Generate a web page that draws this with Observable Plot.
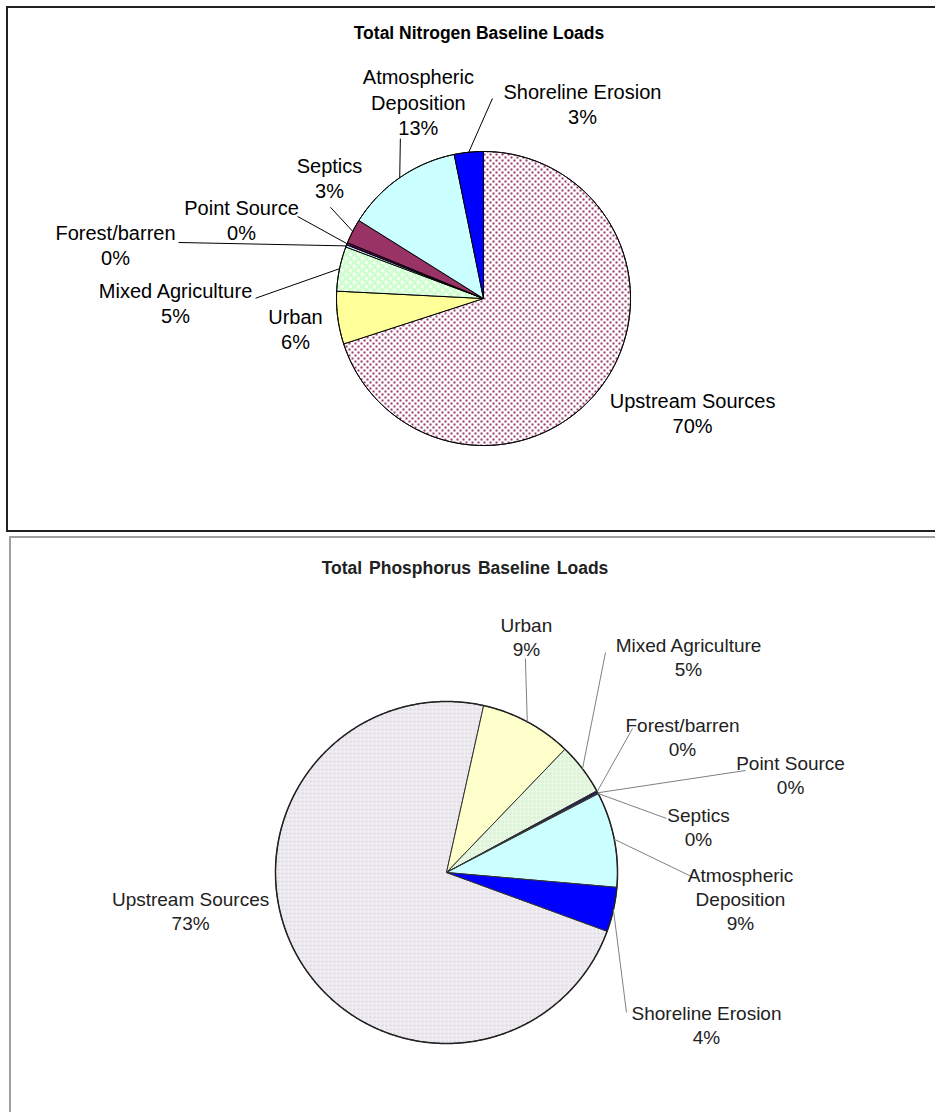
<!DOCTYPE html>
<html>
<head>
<meta charset="utf-8">
<script src="https://cdn.jsdelivr.net/npm/d3@7"></script>
<script src="https://cdn.jsdelivr.net/npm/@observablehq/plot@0.6"></script>
<style>
  html, body { margin: 0; padding: 0; background: #fff; }
  #page { position: relative; width: 935px; height: 1112px; overflow: hidden; background: #fff;
          font-family: "Liberation Sans", Arial, sans-serif; }
  .box { position: absolute; box-sizing: border-box; }
  .title { position: absolute; font-weight: bold; font-size: 17.5px; white-space: nowrap; transform: translate(-50%, -50%); }
  .chart { position: absolute; left: 0; }
</style>
</head>
<body>
<svg width="0" height="0" style="position:absolute">
  <defs>
    <pattern id="nDots" width="6" height="6" patternUnits="userSpaceOnUse">
      <rect width="6" height="6" fill="#ffffff"/>
      <rect x="0" y="0" width="2" height="2" fill="#993366" shape-rendering="crispEdges"/>
      <rect x="3" y="3" width="2" height="2" fill="#993366" shape-rendering="crispEdges"/>
    </pattern>
    <pattern id="nCheck" width="8" height="8" patternUnits="userSpaceOnUse">
      <rect width="8" height="8" fill="#ccffcc"/>
      <rect x="0.5" y="0.5" width="3" height="3" fill="#ffffff"/>
      <rect x="4.5" y="4.5" width="3" height="3" fill="#ffffff"/>
    </pattern>
    <pattern id="pGray" width="4" height="4" patternUnits="userSpaceOnUse">
      <rect width="4" height="4" fill="#efecf2"/>
      <circle cx="2" cy="2" r="1" fill="#d9d3df"/>
    </pattern>
    <pattern id="pGreen" width="4" height="4" patternUnits="userSpaceOnUse">
      <rect width="4" height="4" fill="#e8f8e4"/>
      <circle cx="2" cy="2" r="1" fill="#cdeec5"/>
    </pattern>
  </defs>
</svg>
<div id="page">
  <div class="box" style="left:6px;top:6px;width:960px;height:526px;border:2px solid #222;"></div>
  <div class="box" style="left:9px;top:536px;width:960px;height:700px;border:2px solid #a0a0a0;"></div>
  <div class="title" style="left:479px;top:33px;color:#000;">Total Nitrogen Baseline Loads</div>
  <div class="title" style="left:465px;top:568px;color:#222;word-spacing:2px;">Total Phosphorus Baseline Loads</div>
  <div id="c1" class="chart" style="top:0px;"></div>
  <div id="c2" class="chart" style="top:535px;"></div>
</div>
<script>
// ---------------- data ----------------
const categories = ["Upstream Sources", "Urban", "Mixed Agriculture", "Forest/barren",
                    "Point Source", "Septics", "Atmospheric Deposition", "Shoreline Erosion"];
const labelNames = ["Upstream Sources", "Urban", "Mixed Agriculture", "Forest/barren",
                    "Point Source", "Septics", "Atmospheric\nDeposition", "Shoreline Erosion"];
const nitrogenShare   = [70.0, 5.8, 4.9, 0.25, 0.25, 2.7, 12.9, 3.2];
const phosphorusShare = [72.9, 8.7, 4.9, 0.15, 0.10, 0.05, 9.0, 4.2];

// ---------------- layout / style ----------------
const nitrogenLayout = {
  el: "#c1", height: 532, cx: 483, cy: 298, r: 147, startDeg: 0,
  fills: ["url(#nDots)", "#ffff99", "url(#nCheck)", "#cceeff", "#660066", "#993366", "#ccffff", "#0000ff"],
  stroke: "#000", strokeWidth: 1, outline: "#000", outlineWidth: 1,
  textColor: "#000", leaderColor: "#000", fontSize: 20, lineHeight: 1.27,
  // label centre: [angle clockwise from 12 o'clock (deg), distance in radii]
  labelPolar: [[118.6, 1.62], [261, 1.295], [269.3, 2.095], [278.35, 2.53],
               [288.1, 1.732], [308.2, 1.333], [341.7, 1.411], [26.9, 1.488]],
  // leader start offset from label centre (px), null = no leader
  leaderFrom: [null, null, [80, -4], [63, -2], [56, -3], [1, 30], [-18, 37], [-90, -5]]
};
const phosphorusLayout = {
  el: "#c2", height: 577, cx: 446, cy: 337, r: 171, startDeg: 110.1,
  fills: ["url(#pGray)", "#ffffcc", "url(#pGreen)", "#000080", "#000080", "#000080", "#ccffff", "#0000ff"],
  stroke: "#333", strokeWidth: 1, outline: "#222", outlineWidth: 1.5,
  textColor: "#222", leaderColor: "#808080", fontSize: 19, lineHeight: 1.26,
  labelPolar: [[261.56, 1.513], [18.7, 1.457], [48.25, 1.897], [60.05, 1.593],
               [74.1, 2.092], [79.65, 1.498], [95.05, 1.726], [120.3, 1.761]],
  leaderFrom: [null, [-1, 22], [-83, -4], [-50, -8], [-45, -4], [-32, -8], [-45, -20], [-80, -12]]
};

function polar(deg, dist) {
  const a = deg * Math.PI / 180;
  return {x: dist * Math.sin(a), y: dist * Math.cos(a)};
}

function drawPie(values, L) {
  const total = d3.sum(values);
  let cum = 0;
  const slices = values.map((v, i) => {
    const a0 = L.startDeg + cum / total * 360;
    cum += v;
    const a1 = L.startDeg + cum / total * 360;
    const n = Math.max(2, Math.ceil((a1 - a0) / 0.5));
    const pts = [{x: 0, y: 0}];
    for (let k = 0; k <= n; k++) pts.push(polar(a0 + (a1 - a0) * k / n, 1));
    return {i, name: categories[i], value: v, a0, a1, mid: (a0 + a1) / 2, pts};
  });

  const circle = d3.range(0, 361, 0.5).map(d => polar(d, 1));

  const labels = slices.map((s, i) => {
    const p = polar(L.labelPolar[i][0], L.labelPolar[i][1]);
    return {x: p.x, y: p.y, text: `${labelNames[i]}\n${Math.round(s.value)}%`};
  });

  const leaders = slices.filter((s, i) => L.leaderFrom[i]).map(s => {
    const lab = labels[s.i];
    const off = L.leaderFrom[s.i];
    const e = polar(s.mid, 1);
    return {x1: lab.x + off[0] / L.r, y1: lab.y - off[1] / L.r, x2: e.x, y2: e.y};
  });

  const marks = slices.map(s => Plot.line(s.pts, {
    x: "x", y: "y", curve: "linear-closed",
    fill: L.fills[s.i], stroke: L.stroke, strokeWidth: L.strokeWidth,
    strokeLinejoin: "miter", strokeLinecap: "butt"
  }));
  marks.push(Plot.line(circle, {x: "x", y: "y", stroke: L.outline, strokeWidth: L.outlineWidth, fill: "none"}));
  marks.push(Plot.link(leaders, {x1: "x1", y1: "y1", x2: "x2", y2: "y2", stroke: L.leaderColor, strokeWidth: 1}));
  marks.push(Plot.text(labels, {x: "x", y: "y", text: "text", fontSize: L.fontSize,
                                lineHeight: L.lineHeight, fill: L.textColor}));

  const svg = Plot.plot({
    width: 935, height: L.height, margin: 0,
    x: {type: "linear", domain: [-1, 1], range: [L.cx - L.r, L.cx + L.r], axis: null},
    y: {type: "linear", domain: [-1, 1], range: [L.cy + L.r, L.cy - L.r], axis: null},
    style: {background: "transparent", overflow: "visible",
            fontFamily: "'Liberation Sans', Arial, sans-serif"},
    marks
  });
  document.querySelector(L.el).appendChild(svg);
}

drawPie(nitrogenShare, nitrogenLayout);
drawPie(phosphorusShare, phosphorusLayout);
</script>
</body>
</html>
